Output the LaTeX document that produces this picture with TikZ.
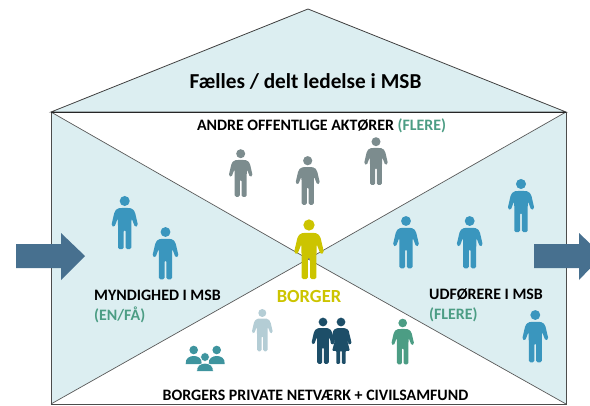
\documentclass[tikz,border=0pt]{standalone}
\usepackage{fontspec}
\setmainfont{Carlito}
\definecolor{housefill}{HTML}{DCEEF1}
\definecolor{msbblue}{HTML}{3A96BE}
\definecolor{msbgrey}{HTML}{7C8C8E}
\definecolor{msbgreen}{HTML}{4C9D84}
\definecolor{msbyellow}{HTML}{CCC400}
\definecolor{msbpale}{HTML}{B4CDD5}
\definecolor{msbnavy}{HTML}{1D4E68}
\definecolor{msbteal}{HTML}{3E949E}
\definecolor{msbarrow}{HTML}{47708F}
\begin{document}
\begin{tikzpicture}[x=1pt,y=-1pt]

    \tikzset{
      label/.style={
        inner sep=0pt,
        font=\fontsize{15.9}{18}\selectfont\bfseries,
      },
      person/.pic={
        \path[pic actions] (0,0) circle (4.7);
        \path[pic actions,rounded corners=1.5pt] (-3.5,6.5) -- (3.5,6.5) -- (7,7) -- (9.5,10) -- (12.5,23) -- (9.7,24.5) -- (6.4,16) -- (6.2,26) -- (6.2,45) -- (0.9,45) -- (0.9,27) -- (-0.9,27) -- (-0.9,45) -- (-6.2,45) -- (-6.2,26) -- (-6.4,16) -- (-9.7,24.5) -- (-12.5,23) -- (-9.5,10) -- (-7,7) -- cycle;
      },
      woman/.pic={
        \path[pic actions] (0,0) circle (4.7);
        \path[pic actions,rounded corners=1pt] (-4,6.5) -- (4,6.5) -- (8,8.5) -- (11.5,23) -- (8.5,24.5) -- (5,13) -- (9.5,31) -- (5,31) -- (5,45) -- (1,45) -- (1,31) -- (-1,31) -- (-1,45) -- (-5,45) -- (-5,31) -- (-9.5,31) -- (-5,13) -- (-8.5,24.5) -- (-11.5,23) -- (-8,8.5) -- cycle;
      },
      bust/.pic={
        \path[pic actions] (0,0) circle (4.3);
        \path[pic actions] (-8,14) .. controls (-8.5,8) and (-4,6) .. (0,6) .. controls (4,6) and (8.5,8) .. (8,14) -- cycle;
      },
      bigarrow/.style={fill=msbarrow},
    }
    \useasboundingbox (0,0) rectangle (590,405);
    \coordinate (apex) at (308,9);
    \coordinate (eaveL) at (51,112);
    \coordinate (eaveR) at (566,112);
    \coordinate (footL) at (51,404);
    \coordinate (footR) at (566,404);
    \coordinate (mid) at (308,259);

    \fill[housefill] (eaveL)--(mid)--(footL)--cycle;
    \fill[housefill] (eaveR)--(mid)--(footR)--cycle;
    \draw[color=black!75!white,line width=0.8pt,fill=housefill] (eaveL)--(apex)--(eaveR)--cycle;
    \draw[color=black!65!white,line width=0.7pt] (eaveL)--(mid)--(footR);
    \draw[color=black!65!white,line width=0.7pt] (footL)--(mid)--(eaveR);
    \draw[color=black!70!white,line width=1pt] (eaveL)--(footL)--(footR)--(eaveR);
    \draw[color=black!85!white,line width=1pt] (eaveL)--(eaveR);

    \fill[bigarrow] (16,244)--(61,244)--(61,233)--(85,256)--(61,280)--(61,268)--(16,268)--cycle;
    \fill[bigarrow] (534,244)--(579,244)--(579,233)--(590,243.5)--(590,268.5)--(579,280)--(579,268)--(534,268)--cycle;

    \foreach \px/\py/\ps in {240.7/153.7/.96,307.7/160.7/.98,376/141.7/.96}
      \pic[fill=msbgrey,scale=\ps] at (\px,\py) {person};
    \foreach \px/\py/\ps in {124.7/201/1.07,165.5/232/1.05,406/221/1.05,469.7/221/1.05,521/184/1.07,535.3/315/1.05}
      \pic[fill=msbblue,scale=\ps] at (\px,\py) {person};
    \pic[fill=msbyellow,scale=1.2] at (309,225) {person};
    \pic[fill=msbpale,scale=.85] at (262.3,313) {person};
    \pic[fill=msbgreen,scale=.92] at (402.7,323) {person};
    \pic[fill=msbnavy,scale=.93] at (323,322) {person};
    \pic[fill=msbnavy,scale=.93] at (341,322) {woman};
    \pic[fill=msbteal] at (193.7,350) {bust};
    \pic[fill=msbteal] at (216.7,350) {bust};
    \pic[draw=white,line width=0.6pt,fill=msbteal,scale=1.03] at (205,357) {bust};

    \node[label,font=\fontsize{21.3}{24}\selectfont\bfseries] (ledelse) at (305.5,82) {Fælles / delt ledelse i MSB};
    \node[label] (aktorer) at (321.5,126) {ANDRE OFFENTLIGE AKTØRER \textcolor{msbgreen}{(FLERE)}};
    \node[label,anchor=west] (myndighed) at (94,295) {MYNDIGHED I MSB};
    \node[label,anchor=west,text=msbgreen] (enfaa) at (94,315) {(EN/FÅ)};
    \node[label,text=msbyellow,font=\fontsize{18.5}{21}\selectfont\bfseries] (borger) at (309,296) {BORGER};
    \node[label,anchor=west] (udforere) at (429,295) {UDFØRERE I MSB};
    \node[label,anchor=west,text=msbgreen] (flere) at (429,315) {(FLERE)};
    \node[label] (netvaerk) at (315.5,395) {BORGERS PRIVATE NETVÆRK + CIVILSAMFUND};

\end{tikzpicture}
\end{document}
